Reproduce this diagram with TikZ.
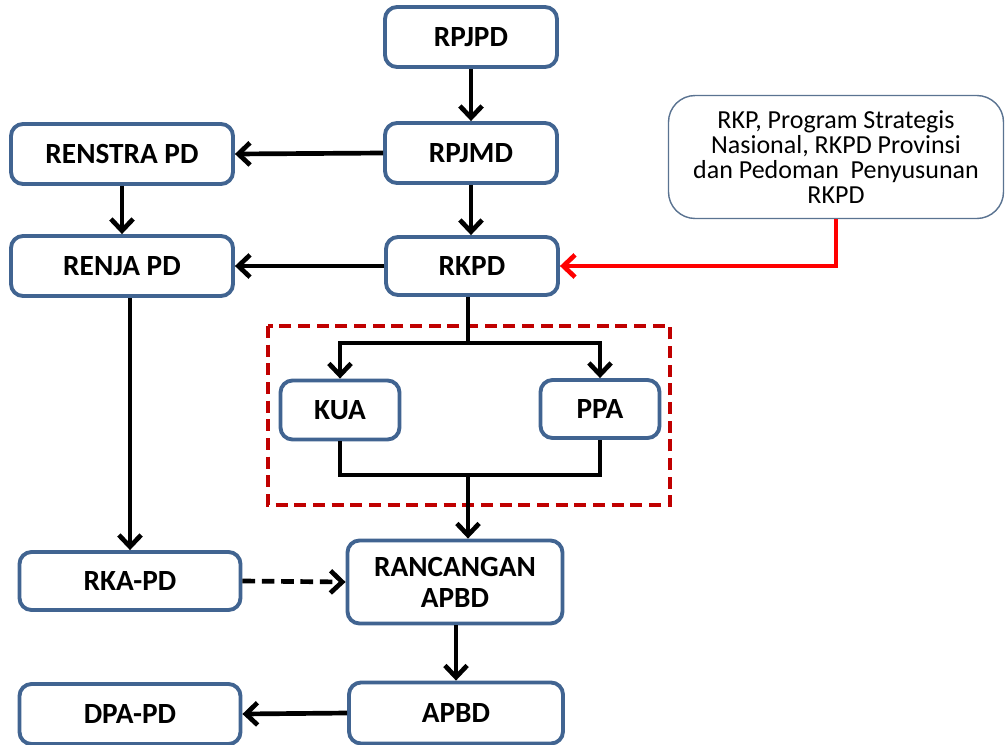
\documentclass[tikz,border=0pt]{standalone}
\usepackage{fontspec}
\setmainfont{Carlito}
\usetikzlibrary{arrows.meta}

\definecolor{garisbiru}{RGB}{65,100,145}
\definecolor{garisabu}{RGB}{90,115,145}
\definecolor{merahtua}{RGB}{192,0,0}

\tikzset{
  blok/.style={draw=garisbiru, line width=3.3pt, rounded corners=0.36cm, fill=white,
    align=center, font=\fontsize{25}{26.4}\selectfont\bfseries, inner sep=2pt},
  catatan/.style={draw=garisabu, line width=1.2pt, rounded corners=0.8cm, fill=white,
    align=center, font=\fontsize{22.2}{21.3}\selectfont, inner sep=2pt},
  panah/.style={line width=4pt, -{Straight Barb[length=10pt,width=19pt,line width=4pt]}},
  garis/.style={line width=4pt},
}

\begin{document}
\begin{tikzpicture}[x=0.03cm, y=-0.03cm]

    \useasboundingbox (0,0) rectangle (1005,744);

    % Kotak utama
    \node[blok, minimum width=5.16cm, minimum height=1.8cm] (rpjpd) at (471,37) {RPJPD};
    \node[blok, minimum width=5.16cm, minimum height=1.8cm] (rpjmd) at (471,153) {RPJMD};
    \node[blok, minimum width=5.16cm, minimum height=1.74cm] (rkpd) at (472,266) {RKPD};
    \node[blok, minimum width=6.66cm, minimum height=1.8cm] (renstra) at (122,154) {RENSTRA PD};
    \node[blok, minimum width=6.66cm, minimum height=1.8cm] (renja) at (122,266) {RENJA PD};

    % Kotak KUA dan PPA
    \node[blok, minimum width=3.57cm, minimum height=1.77cm] (kua) at (340,410) {KUA};
    \node[blok, minimum width=3.57cm, minimum height=1.74cm] (ppa) at (600,409) {PPA};

    % Kotak bawah
    \node[blok, minimum width=6.45cm, minimum height=2.49cm] (rancangan) at (455,582) {RANCANGAN\\APBD};
    \node[blok, minimum width=6.63cm, minimum height=1.74cm] (rka) at (130,581) {RKA-PD};
    \node[blok, minimum width=6.42cm, minimum height=1.83cm] (apbd) at (456,713) {APBD};
    \node[blok, minimum width=6.63cm, minimum height=1.8cm] (dpa) at (130,714) {DPA-PD};

    % Catatan kanan atas
    \node[catatan, minimum width=10.05cm, minimum height=3.69cm] (catatan) at (836,157)
      {RKP, Program Strategis\\Nasional, RKPD Provinsi\\dan Pedoman~ Penyusunan\\RKPD};

    % Kotak putus-putus merah
    \draw[merahtua, line width=3.3pt, dash pattern=on 0.36cm off 0.2cm] (268,326) rectangle (670,505);

    % Titik cabang
    \coordinate (cabang) at (468,343);
    \coordinate (gabung) at (468,475);

    % Panah
    \draw[panah] (rpjpd) -- (rpjmd);
    \draw[panah] (rpjmd) -- (rkpd.north -| rpjmd);
    \draw[panah] (rpjmd.west) -- (renstra.east);
    \draw[panah] (renstra) -- (renja);
    \draw[panah] (rkpd.west) -- (renja.east);
    \draw[garis] (rkpd.south -| cabang) -- (cabang);
    \draw[panah] (cabang) -| (kua.north);
    \draw[panah] (cabang) -| (ppa.north);
    \draw[garis] (kua.south) |- (gabung) -| (ppa.south);
    \draw[panah] (gabung) -- (gabung |- rancangan.north);
    \draw[panah] (rka.north |- renja.south) -- (rka.north);
    \draw[panah, dash pattern=on 0.38cm off 0.2cm] (rka.east) -- (rancangan.west);
    \draw[panah] (rancangan.south -| apbd.north) -- (apbd.north);
    \draw[panah] (apbd.west) -- (dpa.east);
    \draw[panah, red] (catatan.south) |- (rkpd.east);

\end{tikzpicture}
\end{document}
